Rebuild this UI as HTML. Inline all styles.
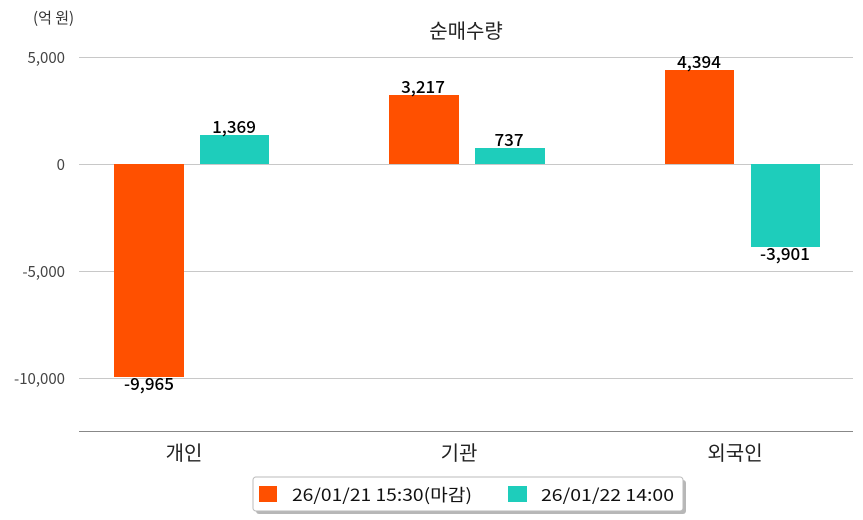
<!DOCTYPE html>
<html><head><meta charset="utf-8"><style>
html,body{margin:0;padding:0;background:#fff;}
svg{display:block;font-family:"Noto Sans CJK KR","Liberation Sans",sans-serif;}
</style></head><body>
<svg width="863" height="520" viewBox="0 0 863 520">
<text x="33" y="23" font-size="15" fill="#333">(억 원)</text>
<text x="466" y="38" font-size="20" fill="#222" text-anchor="middle">순매수량</text>
<g stroke="#c8c8c8" stroke-width="1">
<line x1="79" x2="853" y1="57.5" y2="57.5"/>
<line x1="79" x2="853" y1="164.5" y2="164.5"/>
<line x1="79" x2="853" y1="271.5" y2="271.5"/>
<line x1="79" x2="853" y1="378.5" y2="378.5"/>
</g>
<line x1="79" x2="853" y1="431.5" y2="431.5" stroke="#888"/>
<g font-size="15" fill="#444" text-anchor="end">
<text x="65" y="63">5,000</text>
<text x="65" y="170">0</text>
<text x="65" y="277">-5,000</text>
<text x="65" y="384">-10,000</text>
</g>
<g fill="#ff5000">
<rect x="114" y="164" width="70" height="213"/>
<rect x="389" y="95" width="70" height="69"/>
<rect x="665" y="70" width="69" height="94"/>
</g>
<g fill="#1ecdbb">
<rect x="200" y="135" width="69" height="29"/>
<rect x="475" y="148" width="70" height="16"/>
<rect x="751" y="164" width="69" height="83"/>
</g>
<g font-size="17" font-weight="500" fill="#000" text-anchor="middle">
<text x="149" y="390">-9,965</text>
<text x="234" y="133">1,369</text>
<text x="423" y="93">3,217</text>
<text x="509" y="146">737</text>
<text x="699" y="68">4,394</text>
<text x="785" y="260">-3,901</text>
</g>
<g font-size="20" fill="#222" text-anchor="middle">
<text x="184" y="460">개인</text>
<text x="459" y="460">기관</text>
<text x="735" y="460">외국인</text>
</g>
<rect x="256" y="480" width="430" height="34" rx="3" fill="#999" opacity="0.7"/>
<rect x="253" y="477" width="430" height="34" rx="3" fill="#fff" stroke="#bbb"/>
<rect x="259" y="486" width="18" height="16" fill="#ff5000"/>
<text x="292" y="501" font-size="17" fill="#111" textLength="180" lengthAdjust="spacingAndGlyphs">26/01/21 15:30(마감)</text>
<rect x="508" y="486" width="19" height="16" fill="#1ecdbb"/>
<text x="541" y="501" font-size="17" fill="#111" textLength="133" lengthAdjust="spacingAndGlyphs">26/01/22 14:00</text>
</svg>
</body></html>
